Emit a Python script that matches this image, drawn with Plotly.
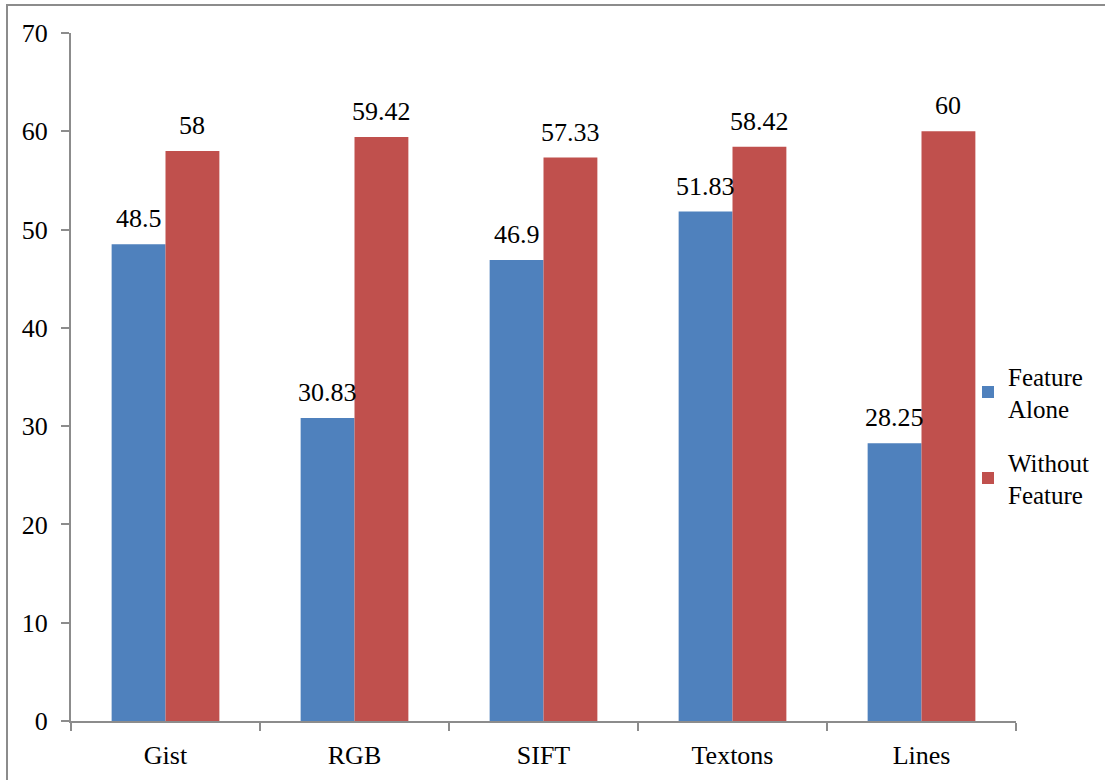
import plotly.graph_objects as go

categories = ["Gist", "RGB", "SIFT", "Textons", "Lines"]
feature_alone = [48.5, 30.83, 46.9, 51.83, 28.25]
without_feature = [58, 59.42, 57.33, 58.42, 60]
y_ticks = [0, 10, 20, 30, 40, 50, 60, 70]

FONT = "Liberation Serif"
AXIS_GRAY = "#8c8c8c"

W, H = 1105, 780
L, R, T, B = 71, 1016, 33, 721
BARGAP = 0.43

# half of one bar's width in pixels, used to centre value labels on each bar
slot = (R - L) / len(categories)
half_bar = slot * (1 - BARGAP) / 4


def px_to_paper(px, py):
    return (px - L) / (R - L), (B - py) / (B - T)


fig = go.Figure()
annotations = []


def add_series(name, values, color, side):
    fig.add_trace(go.Bar(
        name=name, x=categories, y=values, legendgroup=name,
        marker=dict(color=color, line=dict(width=0)),
    ))
    for cat, v in zip(categories, values):
        annotations.append(dict(
            x=cat, y=v, xref="x", yref="y", text=f"{v:g}",
            showarrow=False, xanchor="center", yanchor="bottom",
            xshift=side * half_bar, yshift=9,
            font=dict(family=FONT, size=26, color="black"),
        ))


add_series("Feature<br>Alone", feature_alone, "#4F81BD", -1)
add_series("Without<br>Feature", without_feature, "#C0504D", 1)

lx, ly = px_to_paper(968, 353)
x0, y1 = px_to_paper(7, 5)
x1, y0 = px_to_paper(1200, 820)

fig.update_layout(
    width=W, height=H,
    margin=dict(l=L, r=W - R, t=T, b=H - B, pad=0, autoexpand=False),
    paper_bgcolor="white", plot_bgcolor="white",
    barmode="group", bargap=BARGAP, bargroupgap=0,
    font=dict(family=FONT, size=26, color="black"),
    showlegend=True,
    legend=dict(x=lx, y=ly, xanchor="left", yanchor="top",
                font=dict(family=FONT, size=25, color="black"),
                bgcolor="rgba(0,0,0,0)", tracegroupgap=18,
                traceorder="grouped", itemwidth=30),
    annotations=annotations,
    shapes=[dict(type="rect", xref="paper", yref="paper",
                 x0=x0, x1=x1, y0=y0, y1=y1,
                 line=dict(color=AXIS_GRAY, width=2), layer="below")],
)
fig.update_xaxes(
    showline=True, linecolor=AXIS_GRAY, linewidth=2,
    ticks="outside", tickson="boundaries", ticklen=8,
    tickcolor=AXIS_GRAY, tickwidth=2, showgrid=False,
    tickfont=dict(family=FONT, size=26, color="black"),
    ticklabelstandoff=10,
)
fig.update_yaxes(
    range=[0, 70], tickvals=y_ticks, showline=True,
    linecolor=AXIS_GRAY, linewidth=2, ticks="outside", ticklen=8,
    tickcolor=AXIS_GRAY, tickwidth=2, showgrid=False, zeroline=False,
    tickfont=dict(family=FONT, size=26, color="black"),
    ticklabelstandoff=8,
)

fig.write_html("out.html")
